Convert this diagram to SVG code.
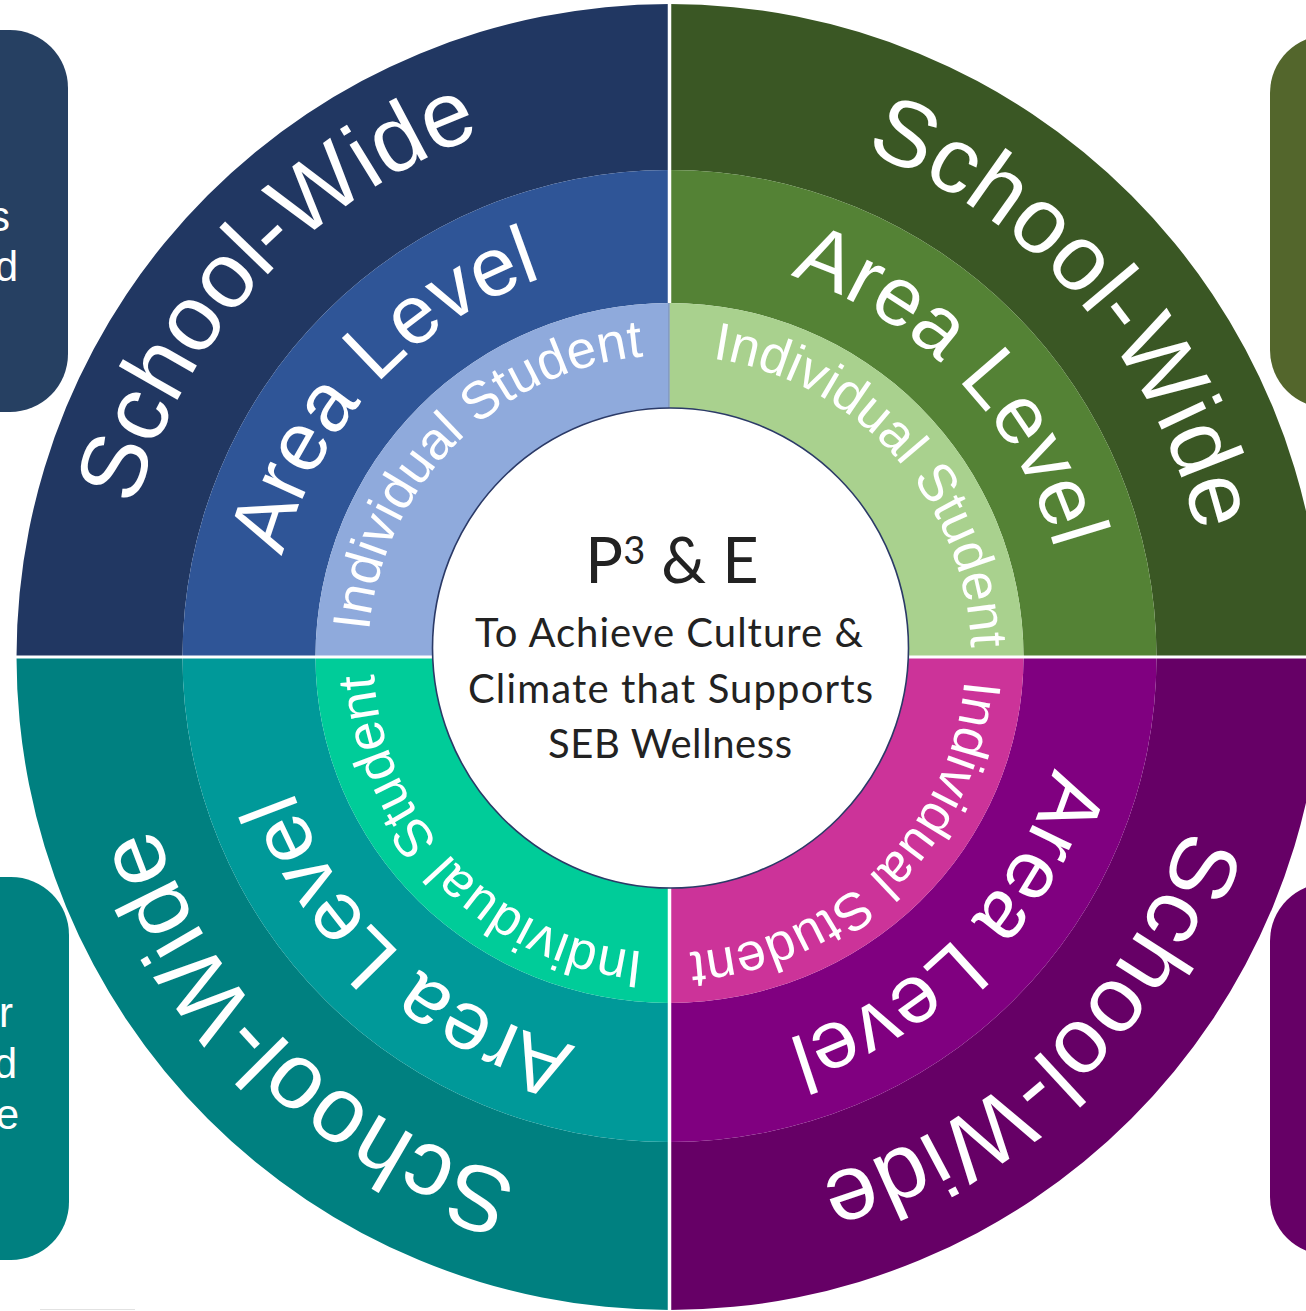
<svg xmlns="http://www.w3.org/2000/svg" width="1306" height="1311" viewBox="0 0 1306 1311">
<style>
.rt{fill:#fff;font-family:"Liberation Sans",Arial,Helvetica,sans-serif;text-anchor:middle}
.sw{font-size:93px}
.al{font-size:83px}
.is{font-size:53px}
.ct{fill:#222;font-family:Lato,"Open Sans","Noto Sans",sans-serif;text-anchor:middle}
.bt{fill:#fff;font-family:"Liberation Sans",Arial,sans-serif;font-size:42px;text-anchor:end}
.div{stroke:#fff;fill:none}
</style>
<defs>
<path id="arcS" d="M 244.4 1013.8 A 555 555 0 0 1 1026.3 231.9"/>
<path id="arcS2" d="M 254.3 1005.4 A 542 542 0 0 1 1017.9 241.8"/>
<path id="arcA" d="M 363.1 914.1 A 400 400 0 0 1 926.6 350.6"/>
<path id="arcI" d="M 438.2 851.1 A 302 302 0 0 1 863.6 425.7"/>
<path id="arcI2" d="M 442.8 847.3 A 296 296 0 0 1 859.8 430.3"/>
</defs>
<rect width="1306" height="1311" fill="#fff"/>

<!-- Top-left quadrant -->
<g id="tl-school-wide">
<path d="M 16.5 657 A 653 653 0 0 1 669.5 4 L 669.5 170 A 487 487 0 0 0 182.5 657 Z" fill="#213762"/>
<text class="rt sw"><textPath href="#arcS" startOffset="48.8%">School-Wide</textPath></text>
</g>
<g id="tl-area-level">
<path d="M 182.5 657 A 487 487 0 0 1 669.5 170 L 669.5 303 A 354 354 0 0 0 315.5 657 Z" fill="#2f5597"/>
<text class="rt al"><textPath href="#arcA" startOffset="48.82%">Area Level</textPath></text>
</g>
<g id="tl-individual-student">
<path d="M 315.5 657 A 354 354 0 0 1 669.5 303 L 669.5 427 A 230 230 0 0 0 439.5 657 Z" fill="#8faadc"/>
<text class="rt is"><textPath href="#arcI" startOffset="50%">Individual Student</textPath></text>
</g>

<!-- Top-right quadrant -->
<g id="tr-school-wide">
<path d="M 669.5 4 A 653 653 0 0 1 1322.5 657 L 1156.5 657 A 487 487 0 0 0 669.5 170 Z" fill="#3a5724"/>
<g transform="rotate(90 669.5 657)"><text class="rt sw"><textPath href="#arcS2" startOffset="52.3%">School-Wide</textPath></text></g>
</g>
<g id="tr-area-level">
<path d="M 669.5 170 A 487 487 0 0 1 1156.5 657 L 1023.5 657 A 354 354 0 0 0 669.5 303 Z" fill="#548235"/>
<g transform="rotate(90 669.5 657)"><text class="rt al"><textPath href="#arcA" startOffset="50.59%">Area Level</textPath></text></g>
</g>
<g id="tr-individual-student">
<path d="M 669.5 303 A 354 354 0 0 1 1023.5 657 L 899.5 657 A 230 230 0 0 0 669.5 427 Z" fill="#a9d18e"/>
<g transform="rotate(90 669.5 657)"><text class="rt is"><textPath href="#arcI" startOffset="51.9%">Individual Student</textPath></text></g>
</g>

<!-- Bottom-right quadrant -->
<g id="br-school-wide">
<path d="M 1322.5 657 A 653 653 0 0 1 669.5 1310 L 669.5 1142 A 487 485 0 0 0 1156.5 657 Z" fill="#660066"/>
<g transform="rotate(180 669.5 657)"><text class="rt sw"><textPath href="#arcS2" startOffset="50.7%">School-Wide</textPath></text></g>
</g>
<g id="br-area-level">
<path d="M 1156.5 657 A 487 485 0 0 1 669.5 1142 L 669.5 1003 A 354 346 0 0 0 1023.5 657 Z" fill="#800080"/>
<g transform="rotate(180 669.5 657)"><text class="rt al"><textPath href="#arcA" startOffset="49.71%">Area Level</textPath></text></g>
</g>
<g id="br-individual-student">
<path d="M 1023.5 657 A 354 346 0 0 1 669.5 1003 L 669.5 887 A 230 230 0 0 0 899.5 657 Z" fill="#cc3399"/>
<g transform="rotate(180 669.5 657)"><text class="rt is"><textPath href="#arcI2" startOffset="50.2%">Individual Student</textPath></text></g>
</g>

<!-- Bottom-left quadrant -->
<g id="bl-school-wide">
<path d="M 669.5 1310 A 653 653 0 0 1 16.5 657 L 182.5 657 A 487 485 0 0 0 669.5 1142 Z" fill="#008080"/>
<g transform="rotate(270 669.5 657)"><text class="rt sw"><textPath href="#arcS2" startOffset="49.4%">School-Wide</textPath></text></g>
</g>
<g id="bl-area-level">
<path d="M 669.5 1142 A 487 485 0 0 1 182.5 657 L 315.5 657 A 354 346 0 0 0 669.5 1003 Z" fill="#009999"/>
<g transform="rotate(270 669.5 657)"><text class="rt al"><textPath href="#arcA" startOffset="48.24%">Area Level</textPath></text></g>
</g>
<g id="bl-individual-student">
<path d="M 669.5 1003 A 354 346 0 0 1 315.5 657 L 439.5 657 A 230 230 0 0 0 669.5 887 Z" fill="#00cc99"/>
<g transform="rotate(270 669.5 657)"><text class="rt is"><textPath href="#arcI2" startOffset="50.5%">Individual Student</textPath></text></g>
</g>

<g id="dividers">
<line class="div" x1="669.5" y1="0" x2="669.5" y2="303" stroke-width="3.5"/>
<line x1="669" y1="303" x2="669" y2="430" stroke="#7d93b5" stroke-width="1.2"/>
<line class="div" x1="669.5" y1="860" x2="669.5" y2="1311" stroke-width="3.5"/>
<line class="div" x1="0" y1="657" x2="1306" y2="657" stroke-width="3"/>
</g>

<g id="center">
<ellipse cx="670.5" cy="648" rx="238" ry="240" fill="#fff" stroke="#2b3a67" stroke-width="1.6"/>
<text class="ct" x="672" y="583" font-size="63">P<tspan font-size="38" dy="-19">3</tspan><tspan dy="19"> &amp; E</tspan></text>
<text class="ct" x="669" y="647" font-size="40" textLength="388">To Achieve Culture &amp;</text>
<text class="ct" x="670.5" y="703" font-size="40" textLength="405">Climate that Supports</text>
<text class="ct" x="670" y="758" font-size="40" textLength="244">SEB Wellness</text>
</g>

<g id="box-top-left">
<rect x="-70" y="30" width="138" height="382" rx="58" fill="#264062"/>
<text class="bt" x="10" y="231">s</text>
<text class="bt" x="18" y="281">d</text>
</g>
<g id="box-top-right">
<rect x="1270" y="35" width="120" height="373" rx="58" fill="#53662c"/>
</g>
<g id="box-bottom-left">
<rect x="-70" y="877" width="139" height="383" rx="58" fill="#008080"/>
<text class="bt" x="13" y="1027">r</text>
<text class="bt" x="17" y="1078">d</text>
<text class="bt" x="19" y="1129">e</text>
</g>
<g id="box-bottom-right">
<rect x="1270" y="883" width="120" height="372" rx="58" fill="#660066"/>
</g>
<line x1="40" y1="1309.5" x2="135" y2="1309.5" stroke="#e2e2e2" stroke-width="1"/>
</svg>
